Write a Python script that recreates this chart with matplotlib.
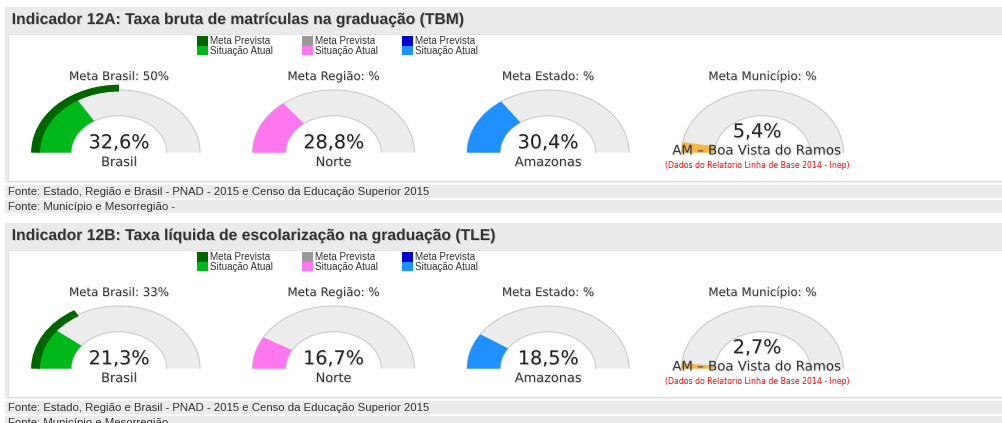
import matplotlib
matplotlib.use("Agg")
import matplotlib.pyplot as plt
from matplotlib.patches import Wedge, Arc, Rectangle
import matplotlib.patheffects as pe

# ---------------- data ----------------
section_titles = [
    "Indicador 12A: Taxa bruta de matrículas na graduação (TBM)",
    "Indicador 12B: Taxa líquida de escolarização na graduação (TLE)",
]
meta_titles_12A = ["Meta Brasil: 50%", "Meta Região: %", "Meta Estado: %", "Meta Município: %"]
meta_titles_12B = ["Meta Brasil: 33%", "Meta Região: %", "Meta Estado: %", "Meta Município: %"]
gauge_labels = ["Brasil", "Norte", "Amazonas", "AM – Boa Vista do Ramos"]
values_12A = [32.6, 28.8, 30.4, 5.4]
values_12B = [21.3, 16.7, 18.5, 2.7]
metas_12A = [50, None, None, None]
metas_12B = [33, None, None, None]
legend_meta_label = "Meta Prevista"
legend_atual_label = "Situação Atual"
footer_1 = "Fonte: Estado, Região e Brasil - PNAD - 2015 e Censo da Educação Superior 2015"
footer_2 = "Fonte: Município e Mesorregião -"
note_municipio = "(Dados do Relatorio Linha de Base 2014 - Inep)"

# ---------------- style ----------------
W, H = 1003, 423
legend_meta_colors = ["#006400", "#999999", "#0000cc"]
legend_atual_colors = ["#00b81a", "#ff77ee", "#1e90ff"]
gauge_colors = ["#00b81a", "#ff77ee", "#1e90ff", "#f5b645"]
meta_color = "#006400"
bar_gray = "#ebebeb"
gauge_bg = "#ededed"
gauge_edge = "#cfcfcf"
txt = "#333333"

sections = [
    dict(title=section_titles[0], metas_t=meta_titles_12A, values=values_12A, metas=metas_12A),
    dict(title=section_titles[1], metas_t=meta_titles_12B, values=values_12B, metas=metas_12B),
]
dy_section = 216.0
gauge_cx = [119.0, 333.5, 548.0, 762.5]
rx, ry = 81.0, 62.7
r_in = 0.59

fig = plt.figure(figsize=(W / 100, H / 100), dpi=100)
fig.patch.set_facecolor("white")

bg = fig.add_axes([0, 0, 1, 1], zorder=0)
bg.set_xlim(0, W)
bg.set_ylim(H, 0)
bg.axis("off")

ov = fig.add_axes([0, 0, 1, 1], zorder=5)
ov.set_xlim(0, W)
ov.set_ylim(H, 0)
ov.axis("off")
ov.patch.set_alpha(0)

shadow = [pe.withSimplePatchShadow(offset=(0.7, -0.7), shadow_rgbFace="#999999", alpha=0.35)]

def fmt(v):
    return ("%.1f" % v).replace(".", ",") + "%"

for s, sec in enumerate(sections):
    oy = s * dy_section
    # container + header
    bg.add_patch(Rectangle((5, 7.3 + oy), W, 176 - 0.3, facecolor=bar_gray, edgecolor="none"))
    bg.add_patch(Rectangle((8.5, 34 + oy), W, 147.5, facecolor="white", edgecolor="#dddddd", lw=0.6))
    # footers
    bg.add_patch(Rectangle((5, 185 + oy), W, 13, facecolor=bar_gray, edgecolor="none"))
    bg.add_patch(Rectangle((5, 200 + oy), W, 13, facecolor=bar_gray, edgecolor="none"))
    ov.text(11.7, 24 + oy, sec["title"], fontsize=11.3, fontweight="bold",
            family="Liberation Sans", color=txt, va="baseline", ha="left", path_effects=shadow)
    ov.text(8.3, 192 + oy, footer_1, fontsize=8.2, family="Liberation Sans", color=txt,
            va="center", ha="left")
    ov.text(8.3, 206.7 + oy, footer_2, fontsize=8.2, family="Liberation Sans", color=txt,
            va="center", ha="left")

    # legend
    for i, (cm, ca) in enumerate(zip(legend_meta_colors, legend_atual_colors)):
        lx = [196.7, 301.7, 401.7][i]
        bg.add_patch(Rectangle((lx, 36 + oy), 11, 9.7, facecolor=cm, edgecolor="none"))
        bg.add_patch(Rectangle((lx, 45.7 + oy), 11, 9.7, facecolor=ca, edgecolor="none"))
        ov.text(lx + 13.5, 41 + oy, legend_meta_label, fontsize=7.1, family="Liberation Sans",
                color=txt, va="center", ha="left")
        ov.text(lx + 13.5, 51 + oy, legend_atual_label, fontsize=7.1, family="Liberation Sans",
                color=txt, va="center", ha="left")

    # gauges
    by = 152.7 + oy
    for g in range(4):
        cx = gauge_cx[g]
        x0, x1, y0, y1 = -1.2, 1.2, -0.05, 1.15
        left_px = cx + x0 * rx
        top_px = by - y1 * ry
        w_px = (x1 - x0) * rx
        h_px = (y1 - y0) * ry
        ax = fig.add_axes([left_px / W, 1 - (top_px + h_px) / H, w_px / W, h_px / H], zorder=2)
        ax.set_xlim(x0, x1)
        ax.set_ylim(y0, y1)
        ax.axis("off")
        ax.patch.set_alpha(0)
        ax.add_patch(Wedge((0, 0), 1.0, 0, 180, width=1 - r_in, facecolor=gauge_bg, edgecolor="none"))
        ax.add_patch(Arc((0, 0), 2.0, 2.0, theta1=0, theta2=180, color=gauge_edge, lw=0.9))
        ax.add_patch(Arc((0, 0), 2 * r_in, 2 * r_in, theta1=0, theta2=180, color=gauge_edge, lw=0.9))
        v = sec["values"][g]
        ax.add_patch(Wedge((0, 0), 1.0, 180 - 1.8 * v, 180, width=1 - r_in,
                           facecolor=gauge_colors[g], edgecolor="none"))
        m = sec["metas"][g]
        if m is not None:
            ax.add_patch(Wedge((0, 0), 1.085, 180 - 1.8 * m, 180, width=0.11,
                               facecolor=meta_color, edgecolor="none"))

        # texts
        ov.text(cx, 80 + oy, sec["metas_t"][g], fontsize=8.5, family="DejaVu Sans", color=txt,
                ha="center", va="baseline", path_effects=shadow)
        if g < 3:
            ov.text(cx, 148.3 + oy, fmt(v), fontsize=13.8, family="DejaVu Sans", color="#222222",
                    ha="center", va="baseline", path_effects=shadow)
            ov.text(cx, 166 + oy, gauge_labels[g], fontsize=9.3, family="DejaVu Sans", color=txt,
                    ha="center", va="baseline", path_effects=shadow)
        else:
            tx = cx - 5.5
            ov.text(tx, 137.3 + oy, fmt(v), fontsize=13.8, family="DejaVu Sans", color="#222222",
                    ha="center", va="baseline", path_effects=shadow)
            ov.text(tx, 154.5 + oy, gauge_labels[g], fontsize=9.6, family="DejaVu Sans", color=txt,
                    ha="center", va="baseline", path_effects=shadow)
            ov.text(tx, 168 + oy, note_municipio, fontsize=5.6, family="DejaVu Sans", color="#ff0000",
                    ha="center", va="baseline")

fig.savefig("out.png", dpi=100, facecolor="white")
